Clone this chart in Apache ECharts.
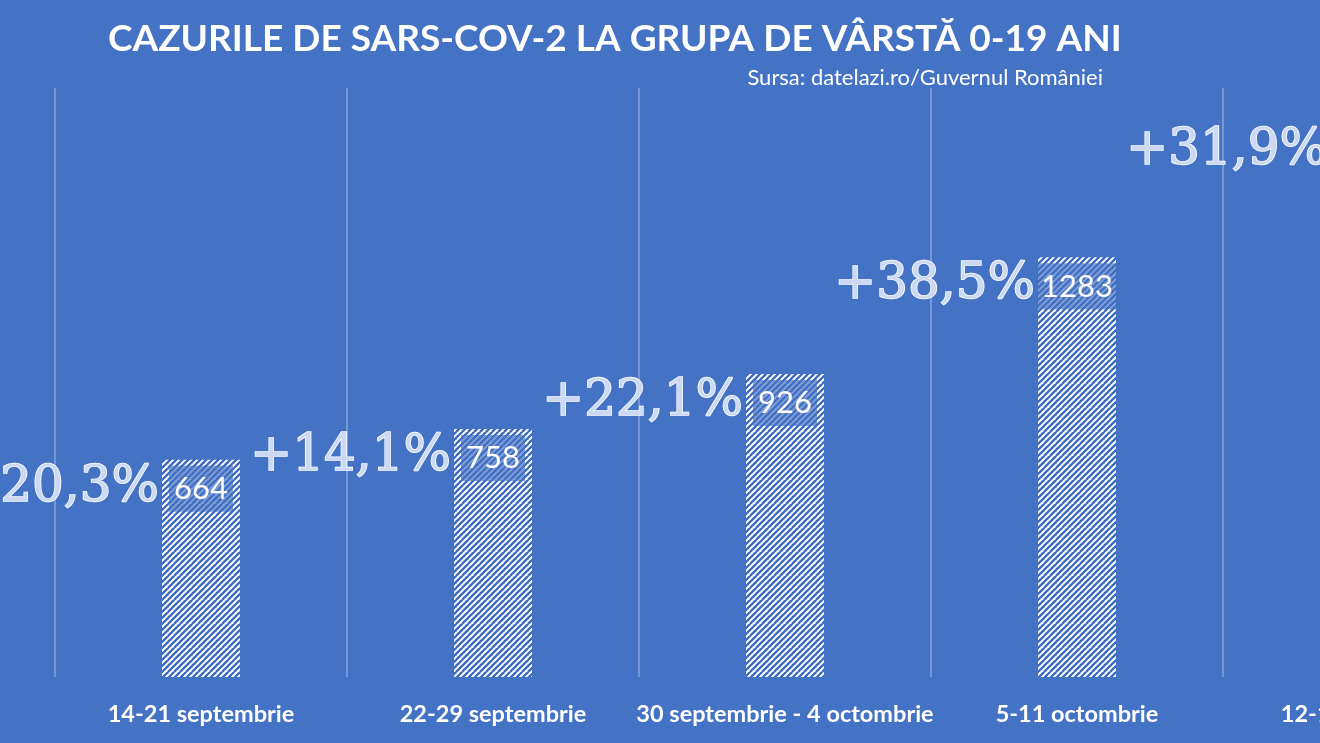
<!DOCTYPE html>
<html>
<head>
<meta charset="utf-8">
<script src="https://cdn.jsdelivr.net/npm/echarts@6/dist/echarts.min.js"></script>
<style>
html,body{margin:0;padding:0;background:#4472C4;overflow:hidden;width:1320px;height:743px;}
#chart{width:1560px;height:743px;}
</style>
</head>
<body>
<div id="chart"></div>
<script>
const categories = ["14-21 septembrie", "22-29 septembrie", "30 septembrie - 4 octombrie", "5-11 octombrie", "12-18 octombrie"];
const cases = [664, 758, 926, 1283, 1692];
const changes = ["+20,3%", "+14,1%", "+22,1%", "+38,5%", "+31,9%"];

function hatch(size, period, lineW, bg, fg) {
  const c = document.createElement('canvas');
  c.width = size; c.height = size;
  const ctx = c.getContext('2d');
  ctx.fillStyle = bg; ctx.fillRect(0, 0, size, size);
  ctx.strokeStyle = fg; ctx.lineWidth = lineW;
  for (let k = -size; k <= 2 * size; k += period) {
    ctx.beginPath();
    ctx.moveTo(k - size, size);
    ctx.lineTo(k + size, -size);
    ctx.stroke();
    ctx.beginPath();
    ctx.moveTo(k, size);
    ctx.lineTo(k + size, 0);
    ctx.stroke();
  }
  return c;
}
const barPattern = hatch(12, 6, 2, '#ffffff', '#3f6cc0');

const chart = echarts.init(document.getElementById('chart'));
chart.setOption({
  backgroundColor: '#4472C4',
  animation: false,
  title: [
    {
      text: 'CAZURILE DE SARS-COV-2 LA GRUPA DE VÂRSTĂ 0-19 ANI',
      left: 103, top: 16,
      textStyle: {color: '#ffffff', fontFamily: 'Lato', fontWeight: 'bold', fontSize: 37}
    },
    {
      text: 'Sursa: datelazi.ro/Guvernul României',
      right: 452, top: 62,
      textStyle: {color: '#ffffff', fontFamily: 'Lato', fontWeight: 'normal', fontSize: 22}
    }
  ],
  grid: {left: 55, width: 1460, top: 88, bottom: 66, containLabel: false, outerBoundsMode: 'none'},
  xAxis: {
    type: 'category',
    data: categories,
    boundaryGap: true,
    axisLine: {show: false},
    axisTick: {show: false},
    splitLine: {show: true, lineStyle: {color: 'rgba(255,255,255,0.35)', width: 1.5}},
    axisLabel: {color: '#ffffff', fontFamily: 'Lato', fontWeight: 'bold', fontSize: 23.5, margin: 25, interval: 0}
  },
  yAxis: {
    type: 'value', min: 0, max: 1800, show: false,
    splitLine: {show: false}
  },
  series: [
    {
      type: 'bar',
      data: cases,
      barWidth: 78,
      itemStyle: {color: {image: barPattern, repeat: 'repeat'}},
      label: {
        show: true, position: 'insideTop', distance: 6,
        color: '#ffffff', fontFamily: 'Lato', fontSize: 31,
        backgroundColor: 'rgba(68,114,196,0.68)',
        padding: [8, 5, 7, 5]
      },
      z: 2
    },
    {
      type: 'bar',
      data: cases,
      barWidth: 78,
      barGap: '-100%',
      itemStyle: {color: 'rgba(0,0,0,0)'},
      label: {
        show: true,
        position: [-3, 28],
        align: 'right', verticalAlign: 'middle',
        formatter: p => changes[p.dataIndex],
        color: '#cbd9f2',
        textBorderColor: '#ffffff', textBorderWidth: 1.5,
        fontFamily: 'DejaVu Serif', fontSize: 50
      },
      z: 3
    }
  ]
});
</script>
</body>
</html>
